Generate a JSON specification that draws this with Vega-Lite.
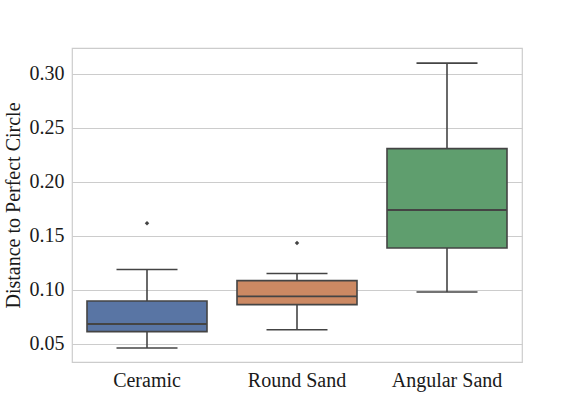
{
  "$schema": "https://vega.github.io/schema/vega-lite/v6.json",
  "autosize": {"type": "none"},
  "padding": {"left": 72, "top": 48, "right": 59, "bottom": 45},
  "width": 450,
  "height": 314,
  "background": "white",
  "config": {
    "font": "Liberation Serif",
    "view": {"stroke": "#cccccc", "strokeWidth": 1.2},
    "axis": {"labelFont": "Liberation Serif", "titleFont": "Liberation Serif", "labelColor": "#1a1a1a", "titleColor": "#1a1a1a"}
  },
  "datasets": {
    "stats": [
      {"material": "Ceramic", "lower": 0.0463, "q1": 0.0614, "median": 0.0685, "q3": 0.0898, "upper": 0.119},
      {"material": "Round Sand", "lower": 0.0632, "q1": 0.0864, "median": 0.0941, "q3": 0.1086, "upper": 0.1152},
      {"material": "Angular Sand", "lower": 0.0981, "q1": 0.1389, "median": 0.174, "q3": 0.2308, "upper": 0.310}
    ],
    "outliers": [
      {"material": "Ceramic", "value": 0.1618},
      {"material": "Round Sand", "value": 0.1435}
    ]
  },
  "encoding": {
    "x": {
      "field": "material", "type": "nominal",
      "sort": ["Ceramic", "Round Sand", "Angular Sand"],
      "scale": {"paddingInner": 0, "paddingOuter": 0},
      "axis": {"title": null, "labelAngle": 0, "labelFontSize": 20, "ticks": false, "domain": false, "labelPadding": 8, "grid": false}
    }
  },
  "layer": [
    {
      "data": {"name": "stats"},
      "mark": {"type": "rule", "color": "#444444", "strokeWidth": 1.6},
      "encoding": {
        "y": {
          "field": "lower", "type": "quantitative",
          "scale": {"domain": [0.0333, 0.324], "nice": false, "zero": false},
          "axis": {
            "title": "Distance to Perfect Circle", "titleFontSize": 20, "titleFontWeight": "normal", "titlePadding": 6,
            "labelFontSize": 20, "format": ".2f", "values": [0.05, 0.10, 0.15, 0.20, 0.25, 0.30],
            "ticks": false, "domain": false, "labelPadding": 8,
            "grid": true, "gridColor": "#cccccc", "gridWidth": 1.2
          }
        },
        "y2": {"field": "upper"}
      }
    },
    {
      "data": {"name": "stats"},
      "mark": {"type": "bar", "width": {"band": 0.8}, "stroke": "#444444", "strokeWidth": 1.6},
      "encoding": {
        "y": {"field": "q1", "type": "quantitative"},
        "y2": {"field": "q3"},
        "color": {
          "field": "material", "type": "nominal", "legend": null,
          "scale": {"domain": ["Ceramic", "Round Sand", "Angular Sand"], "range": ["#5975a4", "#cc8963", "#5f9e6e"]}
        },
        "opacity": {"value": 1}
      }
    },
    {
      "data": {"name": "stats"},
      "mark": {"type": "tick", "color": "#444444", "size": 120, "thickness": 1.8, "opacity": 1},
      "encoding": {"y": {"field": "median", "type": "quantitative"}}
    },
    {
      "data": {"name": "stats"},
      "mark": {"type": "tick", "color": "#444444", "size": 61, "thickness": 1.6, "opacity": 1},
      "encoding": {"y": {"field": "lower", "type": "quantitative"}}
    },
    {
      "data": {"name": "stats"},
      "mark": {"type": "tick", "color": "#444444", "size": 61, "thickness": 1.6, "opacity": 1},
      "encoding": {"y": {"field": "upper", "type": "quantitative"}}
    },
    {
      "data": {"name": "outliers"},
      "mark": {"type": "point", "shape": "diamond", "filled": true, "color": "#444444", "size": 20, "opacity": 1},
      "encoding": {"y": {"field": "value", "type": "quantitative"}}
    }
  ]
}
